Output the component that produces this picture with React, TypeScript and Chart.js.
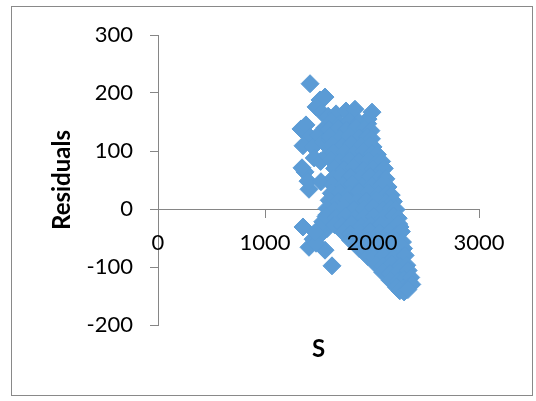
import React, { useEffect, useRef } from "react";
import { Chart, registerables } from "chart.js";

Chart.register(...registerables);

// Residuals plotted against S
const S_VALUES = [
  // upper-left group
  1421, 1514, 1561, 1477, 1533, 1336, 1383, 1421, 1355, 1449, 1374, 1346, 1411, 1402, 1523,
  1500, 1560, 1545, 1460, 1520, 1580, 1590, 1610,
  // upper peaks
  1664, 1757, 1841, 1963, 2000,
  // lower-left group
  1355, 1411, 1449, 1561, 1626, 1514, 1579, 1477, 1500, 1540, 1580, 1470,
  // main cloud
  1620, 1700, 1790, 1880, 1960,
  1600, 1680, 1760, 1850, 1930, 1990,
  1610, 1700, 1790, 1880, 1960, 1995,
  1630, 1720, 1810, 1900, 1980, 2010,
  1640, 1740, 1830, 1920, 2000, 2050,
  1620, 1700, 1790, 1880, 1970, 2050, 2090,
  1650, 1740, 1830, 1920, 2010, 2090, 2115,
  1640, 1710, 1800, 1890, 1980, 2070, 2130,
  1630, 1730, 1820, 1910, 2000, 2090, 2150,
  1620, 1700, 1790, 1880, 1970, 2060, 2140, 2180,
  1600, 1680, 1770, 1860, 1950, 2040, 2130, 2200,
  1580, 1650, 1740, 1830, 1920, 2010, 2100, 2180, 2225,
  1570, 1660, 1750, 1840, 1930, 2020, 2110, 2200, 2245,
  1650, 1720, 1810, 1900, 1990, 2080, 2170, 2250, 2262,
  1730, 1800, 1890, 1980, 2070, 2160, 2240, 2275,
  1800, 1870, 1960, 2050, 2140, 2220, 2285,
  1880, 1940, 2030, 2120, 2210, 2295,
  1960, 2020, 2110, 2200, 2270, 2310,
  2040, 2100, 2180, 2260, 2325,
  2100, 2170, 2250, 2320, 2338,
  2170, 2240, 2300, 2348, 2362,
  2230, 2290, 2345, 2372,
  2260, 2300, 2335,
];

const RESIDUALS = [
  // upper-left group
  216, 188, 193, 176, 166, 138, 145, 124, 109, 107, 64, 71, 34, 48, 47,
  128, 140, 115, 88, 82, 92, 160, 120,
  // upper peaks
  164, 169, 172, 155, 167,
  // lower-left group
  -31, -66, -52, -71, -98, -45, -34, -59, -36, -22, -10, -40,
  // main cloud
  151, 148, 152, 149, 147,
  137, 139, 136, 140, 138, 135,
  125, 122, 126, 123, 124, 121,
  111, 108, 112, 109, 110, 107,
  96, 98, 95, 99, 96, 94,
  84, 81, 85, 82, 83, 80, 82,
  70, 68, 71, 67, 69, 66, 70,
  54, 57, 55, 53, 56, 54, 52,
  42, 40, 43, 39, 41, 42, 38,
  27, 29, 26, 30, 28, 25, 27, 24,
  15, 13, 16, 12, 14, 15, 11, 13,
  1, -2, 2, -1, 0, 3, -2, 1, -1,
  -13, -15, -12, -16, -14, -13, -15, -12, -16,
  -27, -29, -26, -30, -28, -27, -29, -26, -31,
  -40, -43, -41, -39, -42, -40, -43, -39,
  -54, -57, -55, -53, -56, -54, -57,
  -68, -70, -67, -71, -69, -68,
  -82, -84, -81, -85, -83, -80,
  -96, -98, -95, -99, -97,
  -109, -111, -108, -112, -106,
  -123, -125, -122, -126, -118,
  -135, -137, -133, -130,
  -141, -143, -139,
];

const X_TICKS = [0, 1000, 2000, 3000];
const Y_TICKS = [-200, -100, 0, 100, 200, 300];
const X_TITLE = "S";
const Y_TITLE = "Residuals";

const MARKER = "#5B9BD5";
const AXIS_GRAY = "#868686";
const FONT = "Lato";

const frameAndTitles = {
  id: "frameAndTitles",
  afterDraw(chart: any) {
    const { ctx, chartArea } = chart;
    ctx.save();
    ctx.strokeStyle = "#898989";
    ctx.lineWidth = 1;
    ctx.strokeRect(11.5, 6.5, 521, 389);
    ctx.fillStyle = "#000";
    ctx.font = `bold 24px ${FONT}`;
    ctx.textAlign = "center";
    ctx.textBaseline = "middle";
    ctx.fillText(X_TITLE, (chartArea.left + chartArea.right) / 2, chartArea.bottom + 24);
    ctx.translate(chartArea.left - 96, (chartArea.top + chartArea.bottom) / 2);
    ctx.rotate(-Math.PI / 2);
    ctx.fillText(Y_TITLE, 0, 0);
    ctx.restore();
  },
};

const plain = (v: number | string) => String(v);

export default function App() {
  const ref = useRef<HTMLCanvasElement | null>(null);

  useEffect(() => {
    if (!ref.current) return;
    const points = S_VALUES.map((s, i) => ({ x: s, y: RESIDUALS[i] }));
    const tickFont = { family: FONT, size: 22 };

    const chart = new Chart(ref.current, {
      type: "scatter",
      data: {
        datasets: [
          {
            data: points,
            pointStyle: "rectRot",
            pointRadius: 9,
            pointBorderWidth: 1,
            backgroundColor: MARKER,
            borderColor: MARKER,
          },
        ],
      },
      options: {
        animation: false,
        responsive: false,
        devicePixelRatio: 1,
        layout: { padding: { left: 0, top: 35, right: 57, bottom: 76 } },
        plugins: { legend: { display: false }, tooltip: { enabled: false } },
        scales: {
          x: {
            type: "linear",
            position: { y: 0 },
            min: X_TICKS[0],
            max: X_TICKS[X_TICKS.length - 1],
            afterFit: (s: any) => {
              s.height = 0;
            },
            ticks: {
              stepSize: X_TICKS[1] - X_TICKS[0],
              color: "#000",
              padding: 13,
              font: tickFont,
              callback: plain,
              z: 1,
            },
            grid: {
              display: true,
              drawOnChartArea: false,
              drawTicks: true,
              tickLength: 8,
              color: AXIS_GRAY,
            },
            border: { display: true, color: AXIS_GRAY, width: 1 },
          },
          y: {
            type: "linear",
            position: "left",
            min: Y_TICKS[0],
            max: Y_TICKS[Y_TICKS.length - 1],
            afterFit: (s: any) => {
              s.width = 158;
            },
            ticks: {
              stepSize: Y_TICKS[1] - Y_TICKS[0],
              color: "#000",
              padding: 17,
              font: tickFont,
              callback: plain,
            },
            grid: {
              display: true,
              drawOnChartArea: false,
              drawTicks: true,
              tickLength: 8,
              color: AXIS_GRAY,
            },
            border: { display: true, color: AXIS_GRAY, width: 1 },
          },
        },
      } as any,
      plugins: [frameAndTitles],
    });
    return () => chart.destroy();
  }, []);

  return (
    <div style={{ position: "fixed", left: 0, top: 0, width: 536, height: 401, background: "#fff" }}>
      <canvas ref={ref} width={536} height={401} style={{ display: "block" }} />
    </div>
  );
}
